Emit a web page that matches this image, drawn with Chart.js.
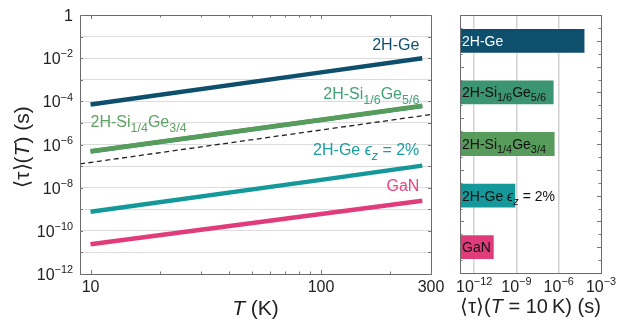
<!DOCTYPE html>
<html><head><meta charset="utf-8">
<script src="https://cdn.jsdelivr.net/npm/chart.js@4/dist/chart.umd.min.js"></script>
<style>
html,body{margin:0;padding:0;background:#fff;width:618px;height:320px;overflow:hidden}
#w1{position:absolute;left:0;top:0;width:460px;height:320px}
#w2{position:absolute;left:440px;top:0;width:178px;height:320px}
</style></head><body>
<div id="w1"><canvas id="c1"></canvas></div>
<div id="w2"><canvas id="c2"></canvas></div>
<script>
// ---------- data ----------
const temperatures   = [10, 100, 275];
const tau2HGe        = [7.2e-5, 2.2e-3, 1.0e-2];
const tauSi16Ge56    = [4.7e-7, 1.36e-5, 6.0e-5];
const tauSi14Ge34    = [4.9e-7, 1.41e-5, 6.3e-5];
const tau2HGeStrain  = [7.6e-10, 2.3e-8, 1.05e-7];
const tauGaN         = [2.4e-11, 6.0e-10, 2.5e-9];
const refT           = [9, 300];
const refTau         = [1.26e-7, 2.45e-5];

const materials      = ['2H-Ge', '2H-Si_{1/6}Ge_{5/6}', '2H-Si_{1/4}Ge_{3/4}', '2H-Ge $ϵ_{z}$ = 2%', 'GaN'];
const tauAt10K       = [7.9e-5, 5.1e-7, 6.0e-7, 9.8e-10, 2.9e-11];

const yTickExponents = [0, -2, -4, -6, -8, -10, -12];
const xTickValues    = [10, 100, 300];
const barTickExponents = [-12, -9, -6, -3];

// ---------- style ----------
const FONT = '"Liberation Sans", Arial, Helvetica, sans-serif';
const colors = ['#0e4f6d', '#3b9472', '#579c5b', '#159899', '#e03c7b'];
const labelColors = ['#0e4f6d', '#44a077', '#5fa263', '#1a9ea0', '#e5437f'];

function parseRich(s){
  const segs=[]; let it=false, i=0, buf='';
  const flush=()=>{ if(buf){segs.push({t:buf,m:0,it}); buf='';} };
  while(i<s.length){
    const c=s[i];
    if(c==='$'){flush(); it=!it; i++; continue;}
    if((c==='_'||c==='^') && s[i+1]==='{'){
      flush(); const j=s.indexOf('}',i);
      segs.push({t:s.slice(i+2,j), m:c==='_'?1:-1, it}); i=j+1; continue;
    }
    buf+=c; i++;
  }
  flush(); return segs;
}
function drawRich(ctx, s, x, y, size, color, align, subScale){
  const sc = subScale || 0.68;
  const segs=parseRich(s);
  const fontOf=sg=>(sg.it?'italic ':'')+(sg.m? size*sc : size)+'px '+FONT;
  let w=0; segs.forEach(sg=>{ctx.font=fontOf(sg); sg.w=ctx.measureText(sg.t).width; w+=sg.w;});
  let cx = align==='right'? x-w : align==='center'? x-w/2 : x;
  ctx.save(); ctx.fillStyle=color; ctx.textBaseline='alphabetic'; ctx.textAlign='left';
  segs.forEach(sg=>{
    ctx.font=fontOf(sg);
    const dy = sg.m===1? size*0.28 : sg.m===-1 ? -size*0.42 : 0;
    ctx.fillText(sg.t,cx,y+dy); cx+=sg.w;
  });
  ctx.restore();
}
function powLabel(e){ return e===0 ? '1' : '10^{' + (e<0?'\u2212':'') + Math.abs(e) + '}'; }

// ---------- left chart ----------
function pts(xs, ys){ return xs.map((x,i)=>({x, y:ys[i]})); }
const decades = [];
for(let e=-11;e<=-1;e++) decades.push(Math.pow(10,e));

const leftPlugin = {
  id:'leftDeco',
  afterDraw(chart){
    const ctx=chart.ctx, a=chart.chartArea, xs=chart.scales.x, ys=chart.scales.y;
    ctx.save();
    ctx.strokeStyle='#6a6a6a'; ctx.lineWidth=1;
    ctx.strokeRect(a.left+0.5, a.top+0.5, a.right-a.left, a.bottom-a.top);
    ctx.strokeStyle='#777';
    ctx.beginPath();
    for(let d=10; d<=300; d*=10){
      for(let k=1;k<10;k++){
        const v=d*k; if(v>300) break;
        const px=Math.round(xs.getPixelForValue(v))+0.5;
        const len = k===1?4:2.5;
        ctx.moveTo(px,a.bottom); ctx.lineTo(px,a.bottom-len);
        ctx.moveTo(px,a.top); ctx.lineTo(px,a.top+len);
      }
    }
    for(let e=-12;e<=0;e++){
      const py=Math.round(ys.getPixelForValue(Math.pow(10,e)))+0.5;
      ctx.moveTo(a.right,py); ctx.lineTo(a.right-3,py);
      ctx.moveTo(a.left,py); ctx.lineTo(a.left+3,py);
    }
    ctx.stroke();
    ctx.restore();
    yTickExponents.forEach(e=>{
      const py=ys.getPixelForValue(Math.pow(10,e));
      drawRich(ctx, powLabel(e), a.left-7, py+6, 16, '#222', 'right');
    });
    xTickValues.forEach(v=>{
      drawRich(ctx, String(v), xs.getPixelForValue(v), a.bottom+18, 16, '#222', 'center');
    });
    drawRich(ctx, '$T$ (K)', (a.left+a.right)/2, 315, 21, '#222', 'center');
    ctx.save(); ctx.translate(29, 147); ctx.rotate(-Math.PI/2);
    drawRich(ctx, '\u27E8τ\u27E9($T$) (s)', 0, 0, 21, '#222', 'center');
    ctx.restore();
    const ann = chart.options.plugins.leftDeco.labels;
    ann.forEach(l=>{
      drawRich(ctx, materials[l.i], xs.getPixelForValue(l.x), ys.getPixelForValue(l.y), 16, labelColors[l.i], l.align, 0.78);
    });
  }
};

new Chart(document.getElementById('c1'), {
  type:'line',
  data:{ datasets:[
    {label:materials[0], data:pts(temperatures,tau2HGe), borderColor:colors[0], borderWidth:4.5, order:1},
    {label:materials[1], data:pts(temperatures,tauSi16Ge56), borderColor:colors[1], borderWidth:4.5, order:3},
    {label:materials[2], data:pts(temperatures,tauSi14Ge34), borderColor:colors[2], borderWidth:4.5, order:2},
    {label:materials[3], data:pts(temperatures,tau2HGeStrain), borderColor:colors[3], borderWidth:4.5, order:1},
    {label:materials[4], data:pts(temperatures,tauGaN), borderColor:colors[4], borderWidth:4.5, order:1},
    {label:'T^1.5', data:pts(refT,refTau), borderColor:'#222', borderWidth:1.3, borderDash:[5,3.5], order:0}
  ]},
  options:{
    responsive:true, maintainAspectRatio:false, animation:false,
    elements:{point:{radius:0}, line:{tension:0, borderCapStyle:'butt'}},
    layout:{padding:{left:80, top:15, right:29, bottom:46}},
    plugins:{legend:{display:false}, tooltip:{enabled:false},
      leftDeco:{labels:[
        {i:0, x:267, y:2.34e-2, align:'right'},
        {i:1, x:267, y:1.26e-4, align:'right'},
        {i:2, x:10,  y:6.2e-6, align:'left'},
        {i:3, x:267, y:3.1e-7, align:'right'},
        {i:4, x:267, y:6.9e-9, align:'right'}
      ]}
    },
    scales:{
      x:{type:'logarithmic', min:9, max:300,
         grid:{display:false, drawTicks:false}, border:{display:false},
         ticks:{display:false}, afterFit:s=>{s.height=0;}},
      y:{type:'logarithmic', min:1e-12, max:1,
         afterBuildTicks:s=>{s.ticks=decades.map(v=>({value:v}));},
         grid:{color:'#dcdcdc', lineWidth:1, drawTicks:false}, border:{display:false},
         ticks:{display:false}, afterFit:s=>{s.width=0;}}
    }
  },
  plugins:[leftPlugin]
});

// ---------- right chart ----------
const BAR_MIN = 1e-13;
const rightPlugin = {
  id:'rightDeco',
  afterDraw(chart){
    const ctx=chart.ctx, a=chart.chartArea, xs=chart.scales.x;
    ctx.save();
    ctx.strokeStyle='#6a6a6a'; ctx.lineWidth=1;
    ctx.strokeRect(a.left+0.5, a.top+0.5, a.right-a.left, a.bottom-a.top);
    ctx.strokeStyle='#777'; ctx.beginPath();
    const n=20;
    for(let k=1;k<n;k++){
      const py=Math.round(a.top+(a.bottom-a.top)*k/n)+0.5;
      const len = k%2===0?4:2.5;
      ctx.moveTo(a.right,py); ctx.lineTo(a.right-len,py);
      ctx.moveTo(a.left,py); ctx.lineTo(a.left+len,py);
    }
    ctx.stroke();
    ctx.restore();
    barTickExponents.forEach(e=>{
      drawRich(ctx, powLabel(e), xs.getPixelForValue(Math.pow(10,e)), a.bottom+19, 16, '#222', 'center');
    });
    drawRich(ctx, '\u27E8τ\u27E9($T$ = 10\u2009K) (s)', (a.left+a.right)/2, 313, 20, '#222', 'center');
    const meta=chart.getDatasetMeta(0);
    meta.data.forEach((bar,i)=>{
      drawRich(ctx, materials[i], a.left+2, bar.y+5, 14, i===0?'#ffffff':'#111111', 'left', 0.78);
    });
  }
};

new Chart(document.getElementById('c2'), {
  type:'bar',
  data:{ labels:materials, datasets:[{
    data: tauAt10K.map(v=>[BAR_MIN, v]),
    backgroundColor: colors,
    borderColor: colors.map(()=> 'rgba(255,255,255,0.35)'),
    borderWidth:1, borderSkipped:false,
    barPercentage:0.5, categoryPercentage:1
  }]},
  options:{
    indexAxis:'y', responsive:true, maintainAspectRatio:false, animation:false,
    layout:{padding:{left:20, top:15, right:17, bottom:47}},
    plugins:{legend:{display:false}, tooltip:{enabled:false}},
    scales:{
      x:{type:'logarithmic', min:BAR_MIN, max:1e-3, z:1,
         afterBuildTicks:s=>{s.ticks=[1e-12,1e-9,1e-6].map(v=>({value:v}));},
         grid:{color:'rgba(190,190,190,0.7)', lineWidth:1.5, drawTicks:false}, border:{display:false},
         ticks:{display:false}, afterFit:s=>{s.height=0;}},
      y:{grid:{display:false, drawTicks:false}, border:{display:false},
         ticks:{display:false}, afterFit:s=>{s.width=0;}}
    }
  },
  plugins:[rightPlugin]
});
</script>
</body></html>
